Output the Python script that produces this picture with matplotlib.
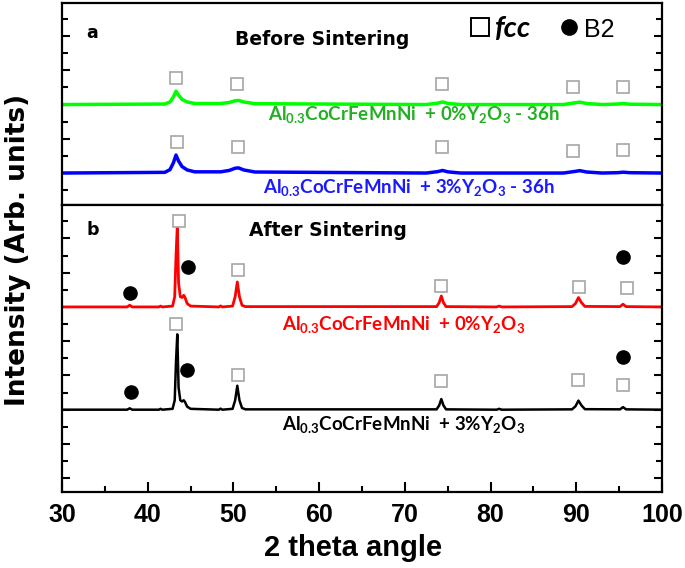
"""
    XRD patterns of Al0.3CoCrFeMnNi with 0% and 3% Y2O3,
    before (a) and after (b) sintering.
"""
import numpy as np
import matplotlib.pyplot as plt
from matplotlib.lines import Line2D
from matplotlib.ticker import MultipleLocator

plt.rcParams['mathtext.default'] = 'regular'

# ---- panel a : milled powders (36h), intensity relative to own baseline
before_x = [30, 42.0, 42.6, 43.0, 43.3, 43.6, 44.0, 44.6, 45.5, 48.5, 49.5, 50.2,
            50.6, 51.2, 52.5, 72.5, 73.8, 74.4, 75.0, 76.5, 88.5, 89.8, 90.4,
            91.2, 93.0, 94.8, 95.5, 96.2, 100]
green_y = [0, 0.03, 0.15, 0.45, 0.78, 0.55, 0.30, 0.15, 0.06, 0.06, 0.12, 0.22,
           0.24, 0.15, 0.05, 0.0, 0.08, 0.15, 0.07, 0.0, 0.0, 0.10, 0.14,
           0.06, 0.0, 0.03, 0.06, 0.02, 0]
blue_y = [0, 0.04, 0.20, 0.60, 1.05, 0.70, 0.38, 0.18, 0.07, 0.07, 0.15, 0.28,
          0.30, 0.18, 0.06, 0.0, 0.08, 0.15, 0.07, 0.0, 0.0, 0.09, 0.14,
          0.06, 0.0, 0.02, 0.05, 0.02, 0]

# ---- panel b : sintered samples
after_x = [30, 37.6, 37.9, 38.2, 41.3, 41.5, 41.7, 42.9, 43.15, 43.3, 43.45, 43.6,
           43.8, 44.0, 44.2, 44.35, 44.6, 45.0, 48.3, 48.5, 48.7, 49.9, 50.2,
           50.45, 50.7, 51.0, 51.4, 73.7, 74.0, 74.25, 74.5, 74.8, 80.7, 81.0,
           81.3, 89.5, 89.9, 90.25, 90.6, 91.0, 95.1, 95.45, 95.8, 100]
red_y = [0, 0, 0.10, 0, 0, 0.05, 0, 0.05, 0.60, 3.0, 4.7, 1.4,
         0.60, 0.55, 0.68, 0.55, 0.20, 0.05, 0, 0.06, 0, 0.05, 0.60,
         1.46, 0.60, 0.10, 0.02, 0.02, 0.25, 0.64, 0.25, 0.02, 0.0, 0.05,
         0.0, 0.02, 0.20, 0.55, 0.25, 0.03, 0.02, 0.16, 0.02, 0]
black_y = [0, 0, 0.08, 0, 0, 0.05, 0, 0.05, 0.55, 2.8, 4.4, 1.3,
           0.55, 0.48, 0.55, 0.45, 0.18, 0.05, 0, 0.06, 0, 0.05, 0.55,
           1.40, 0.55, 0.10, 0.02, 0.02, 0.25, 0.62, 0.25, 0.02, 0.0, 0.05,
           0.0, 0.02, 0.20, 0.53, 0.25, 0.03, 0.02, 0.15, 0.02, 0]

# ---- phase markers (2theta, height in panel units)
green_fcc_x = [43.3, 50.4, 74.3, 89.6, 95.4]
green_fcc_y = [5.56, 5.20, 5.20, 5.03, 5.03]
blue_fcc_x = [43.4, 50.5, 74.3, 89.6, 95.4]
blue_fcc_y = [1.81, 1.52, 1.52, 1.29, 1.35]
red_fcc_x = [43.6, 50.5, 74.2, 90.3, 95.9]
red_fcc_y = [11.0, 8.13, 7.25, 7.19, 7.08]
red_b2_x = [37.9, 44.7, 95.5]
red_b2_y = [6.84, 8.36, 8.89]
black_fcc_x = [43.3, 50.5, 74.2, 90.2, 95.5]
black_fcc_y = [5.03, 2.05, 1.66, 1.75, 1.46]
black_b2_x = [38.0, 44.6, 95.5]
black_b2_y = [1.01, 2.30, 3.08]

xticks = [30, 40, 50, 60, 70, 80, 90, 100]

fig = plt.figure(figsize=(6.85, 5.68), dpi=100)
axa = fig.add_axes([0.0905, 0.639, 0.876, 0.356])
axb = fig.add_axes([0.0905, 0.134, 0.876, 0.505], sharex=axa)

sq = dict(marker='s', ls='none', ms=9, mfc='white', mec='#a6a6a6', mew=1.2)
dot = dict(marker='o', ls='none', ms=9.5, color='black')

# panel a
axa.plot(before_x, np.array(green_y) + 4, color='#00ff00', lw=2.5)
axa.plot(before_x, blue_y, color='#0000ff', lw=2.5)
axa.plot(green_fcc_x, green_fcc_y, **sq)
axa.plot(blue_fcc_x, blue_fcc_y, **sq)
axa.set_ylim(-1.87, 9.94)

# panel b
axb.plot(after_x, np.array(red_y) + 6, color='#ff0000', lw=2)
axb.plot(after_x, black_y, color='black', lw=1.8)
axb.plot(red_fcc_x, red_fcc_y, **sq)
axb.plot(black_fcc_x, black_fcc_y, **sq)
axb.plot(red_b2_x, red_b2_y, **dot)
axb.plot(black_b2_x, black_b2_y, **dot)
axb.set_ylim(-4.8, 11.95)

axb.set_xlim(30, 100)
axb.set_xticks(xticks)
axb.xaxis.set_minor_locator(MultipleLocator(5))

narrow = ['DejaVu Sans Condensed', 'Liberation Sans Narrow', 'Liberation Sans', 'DejaVu Sans']
for ax in (axa, axb):
    for s in ax.spines.values():
        s.set_linewidth(1.6)
    ax.yaxis.set_major_locator(MultipleLocator(2))
    ax.yaxis.set_minor_locator(MultipleLocator(1))
    ax.tick_params(axis='y', which='both', direction='in', left=True, right=True,
                   labelleft=False)
    ax.tick_params(axis='y', which='major', length=6, width=1.5)
    ax.tick_params(axis='y', which='minor', length=4, width=1.5)
    ax.tick_params(axis='x', which='both', direction='in', top=False, width=1.5)
    ax.tick_params(axis='x', which='major', length=7, pad=8)
    ax.tick_params(axis='x', which='minor', length=4)
axa.tick_params(axis='x', which='both', bottom=False, labelbottom=False)
for lab in axb.get_xticklabels():
    lab.set_family(narrow)
    lab.set_fontweight('bold')
    lab.set_fontsize(18)

lbl = dict(fontfamily=['Lato', 'DejaVu Sans'], fontweight='bold', fontsize=13.5,
           ha='center', va='center')
axa.text(71.0, 3.39, 'Al$_{0.3}$CoCrFeMnNi  + 0%Y$_2$O$_3$ - 36h', color='#22b022', **lbl)
axa.text(70.4, -0.82, 'Al$_{0.3}$CoCrFeMnNi  + 3%Y$_2$O$_3$ - 36h', color='#1a1aff', **lbl)
axb.text(69.9, 4.97, 'Al$_{0.3}$CoCrFeMnNi  + 0%Y$_2$O$_3$', color='#ff0000', **lbl)
axb.text(69.9, -0.88, 'Al$_{0.3}$CoCrFeMnNi  + 3%Y$_2$O$_3$', color='black', **lbl)

hdr = dict(fontfamily='DejaVu Sans', fontweight='bold', ha='center', va='center')
axa.text(0.05, 0.85, 'a', fontsize=12.5, transform=axa.transAxes, **hdr)
axa.text(0.433, 0.817, 'Before Sintering', fontsize=13.5, transform=axa.transAxes, **hdr)
axb.text(0.052, 0.913, 'b', fontsize=12.5, transform=axb.transAxes, **hdr)
axb.text(0.443, 0.913, 'After Sintering', fontsize=13.5, transform=axb.transAxes, **hdr)

handles = [Line2D([], [], marker='s', ls='none', ms=13, mfc='white', mec='black', mew=1.4),
           Line2D([], [], marker='o', ls='none', ms=11, color='black')]
leg = axa.legend(handles, ['fcc', 'B2'], ncol=2, frameon=False, loc='center left',
                 bbox_to_anchor=(0.678, 0.87), borderaxespad=0, borderpad=0,
                 handletextpad=0.15, columnspacing=0.95, handlelength=0.8,
                 prop={'size': 20})
leg.get_texts()[0].set(family=['Lato', 'DejaVu Sans'], style='italic', weight='bold', size=21)
leg.get_texts()[1].set(family=['Liberation Sans', 'DejaVu Sans'], size=18)

fig.text(0.027, 0.56, 'Intensity (Arb. units)', rotation=90, ha='center', va='center',
         fontsize=19, fontweight='bold', fontfamily='DejaVu Sans')
fig.text(0.515, 0.035, '2 theta angle', ha='center', va='center', fontsize=21,
         fontweight='bold', fontfamily=narrow)

fig.savefig('out.png', dpi=100)
